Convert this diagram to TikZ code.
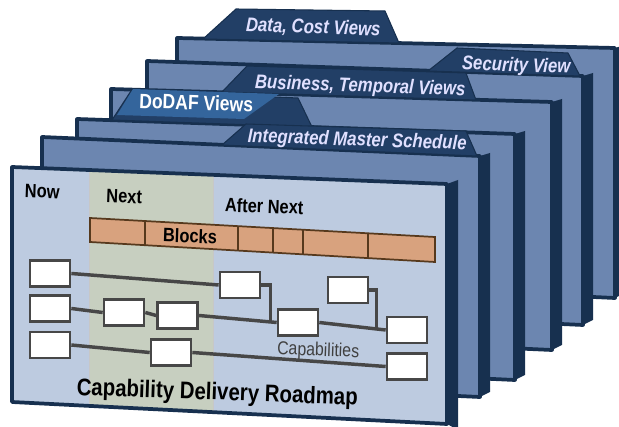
\documentclass[tikz,border=0pt]{standalone}
\usepackage{fontspec}
\usepackage{xcolor}
\usepackage{tikz}
\usetikzlibrary{calc}
\newfontfamily\roadfont[FakeStretch=0.85]{Liberation Sans}
\definecolor{edgenavy}{HTML}{17304F}
\definecolor{tabnavy}{HTML}{223F66}
\definecolor{backface}{HTML}{6C86B0}
\definecolor{frontface}{HTML}{BDCBE0}
\definecolor{nextface}{HTML}{C7CFC0}
\definecolor{blockfill}{HTML}{D8A27E}
\definecolor{dodafblue}{HTML}{34659C}
\definecolor{linkgrey}{HTML}{474747}
\tikzset{
  panelface/.style={fill=backface,draw=edgenavy,line width=2.8pt,line join=round},
  panelside/.style={fill=edgenavy},
  viewtab/.style={fill=tabnavy,draw=edgenavy,line width=0.8pt,line join=round},
  tablabel/.style={text=white!88!blue,font=\roadfont\bfseries\itshape\fontsize{14.8}{17}\selectfont,
    inner sep=0pt,anchor=base,rotate=-2},
  roadlabel/.style={font=\roadfont\bfseries\fontsize{14.5}{17}\selectfont,inner sep=0pt,anchor=base,rotate=-2},
  capbox/.style={draw=linkgrey,fill=white,line width=2pt,minimum width=30pt,minimum height=19.5pt,inner sep=0pt},
  capline/.style={draw=linkgrey,line width=2.6pt},
  blockcell/.style={draw=black!55!brown,line width=1.3pt}
}

\begin{document}
\begin{tikzpicture}[x=0.75pt,y=-0.75pt]
  \useasboundingbox (0,0) rectangle (619,427);
  \foreach \xl/\yl/\xr/\yr/\yb in {177/38/615/48/298,147/61/583/76/325,111/89/552/102/350,
      77/119/515/134/380,42/137/480/156/397}{
    \fill[panelside] (\xr,\yr) -- (\xr+10,\yr-3) -- (\xr+10,\yb-5) -- (\xr,\yb) -- cycle;
    \draw[panelface] (\xl,\yl) -- (\xr,\yr) -- (\xr,\yb) -- (\xl,\yb-20) -- cycle;
  }

  \draw[viewtab] (203,39) -- (236,9) -- (385,11) -- (399,43) -- cycle;
  \node[tablabel] (datacost) at (313,33.5) {Data, Cost Views};
  \draw[viewtab] (428,71) -- (457,48) -- (568,53) -- (580,76) -- cycle;
  \node[tablabel] (security) at (516,71.5) {Security View};
  \draw[viewtab] (222,92) -- (247,66) -- (466,73) -- (476,100) -- cycle;
  \node[tablabel] (business) at (360,92) {Business, Temporal Views};
  \draw[viewtab] (112,120) -- (131,91) -- (298,98) -- (312,127) -- cycle;
  \fill[dodafblue] (117,115) -- (133,89) -- (279,94) -- (244,119) -- cycle;
  \node[tablabel,font=\roadfont\bfseries\fontsize{15.5}{17}\selectfont,text=white] (dodaf) at (196,110) {DoDAF Views};
  \draw[viewtab] (222,145) -- (246,124) -- (466,131) -- (477,156) -- cycle;
  \node[tablabel] (schedule) at (357,146) {Integrated Master Schedule};

  \coordinate (f-tl) at (12,167);
  \coordinate (f-tr) at (447,184);
  \coordinate (f-br) at (447,424);
  \coordinate (f-bl) at (12,402);
  \fill[panelside] (f-tr) -- (458,180) -- (458,430) -- (f-br) -- cycle;
  \fill[frontface] (f-tl) -- (f-tr) -- (f-br) -- (f-bl) -- cycle;
  \fill[nextface] ($(f-tl)!0.179!(f-tr)$) -- ($(f-tl)!0.462!(f-tr)$)
    -- ($(f-bl)!0.462!(f-br)$) -- ($(f-bl)!0.179!(f-br)$) -- cycle;
  \draw[black!22,line width=0.6pt] ($(f-tl)!0.179!(f-tr)$) -- ($(f-bl)!0.179!(f-br)$)
    ($(f-tl)!0.462!(f-tr)$) -- ($(f-bl)!0.462!(f-br)$);
  \draw[panelface,fill=none] (f-tl) -- (f-tr) -- (f-br) -- (f-bl) -- cycle;

  \node[roadlabel] (now) at (42,198) {Now};
  \node[roadlabel] (next) at (124,203) {Next};
  \node[roadlabel] (afternext) at (264,213) {After Next};

  \coordinate (bar-tl) at (90,218);
  \coordinate (bar-tr) at (435,237);
  \coordinate (bar-br) at (435,262);
  \coordinate (bar-bl) at (90,242);
  \draw[blockcell,fill=blockfill] (bar-tl) -- (bar-tr) -- (bar-br) -- (bar-bl) -- cycle;
  \foreach \f in {0.159,0.429,0.530,0.617,0.806}
    \draw[blockcell] ($(bar-tl)!\f!(bar-tr)$) -- ($(bar-bl)!\f!(bar-br)$);
  \node[roadlabel,anchor=center,rotate=0] (blocks) at (190,236) {Blocks};

  \node[capbox] (now1) at (50,273.5) {};
  \node[capbox] (now2) at (50,308.5) {};
  \node[capbox] (now3) at (50,345) {};
  \node[capbox] (next1) at (124,312.5) {};
  \node[capbox] (next2) at (177.5,315.5) {};
  \node[capbox] (next3) at (171,352.5) {};
  \node[capbox] (after1) at (240,285) {};
  \node[capbox] (after2) at (298,322.5) {};
  \node[capbox] (after3) at (348,290) {};
  \node[capbox] (last1) at (407,330) {};
  \node[capbox] (last2) at (407,366.5) {};
  \draw[capline] (now1.east) -- (after1.west);
  \draw[capline] (now2.east) -- (next1.west);
  \draw[capline] (next1.east) -- (next2.west);
  \draw[capline] (next2.east) -- (after2.west);
  \draw[capline] (after1.east) -| ($(after2.west)+(-6,0)$);
  \draw[capline] (after2.east) -- (last1.west);
  \draw[capline] (after3.east) -| ($(last1.west)+(-9,0)$);
  \draw[capline] (now3.east) -- (next3.west);
  \draw[capline] (next3.east) -- (last2.west);

  \node[roadlabel,font=\roadfont\fontsize{14}{16}\selectfont,text=black!75] (capabilities) at (318,356) {Capabilities};
  \node[roadlabel,font=\roadfont\bfseries\fontsize{18}{20}\selectfont] (roadmap) at (217,400) {Capability Delivery Roadmap};
\end{tikzpicture}
\end{document}
